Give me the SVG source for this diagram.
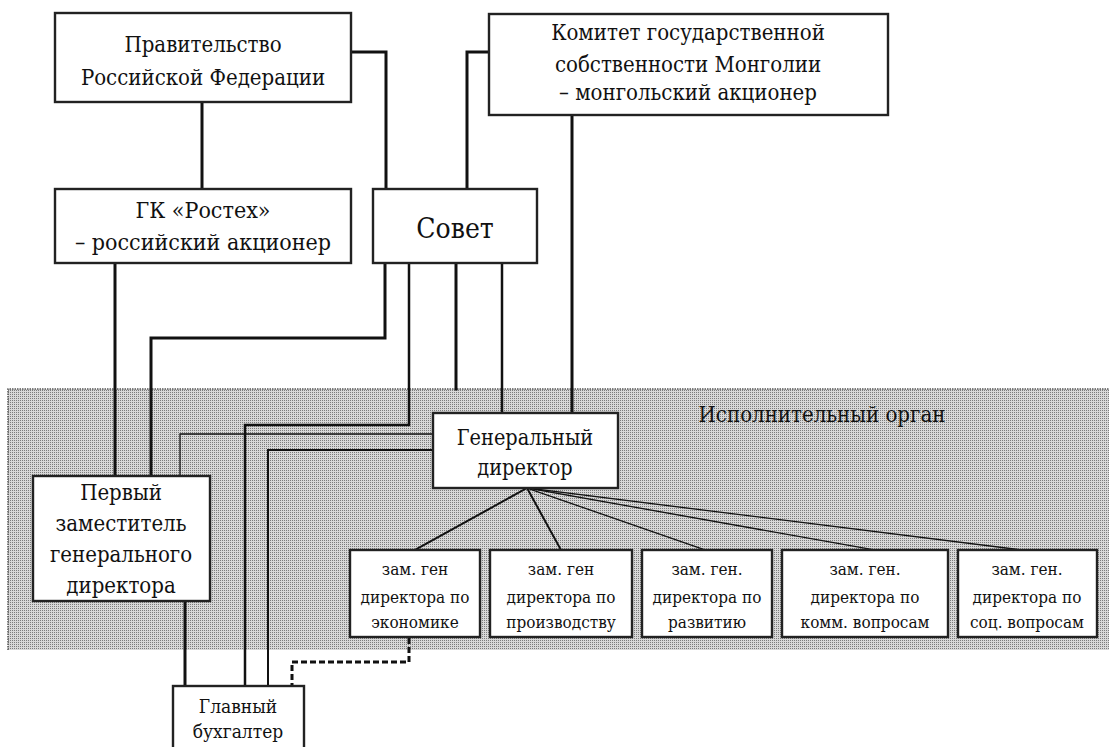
<svg xmlns="http://www.w3.org/2000/svg" width="1109" height="747" viewBox="0 0 1109 747">
<defs>
<pattern id="dots" width="2" height="2" patternUnits="userSpaceOnUse">
<rect width="2" height="2" fill="#d8d8d8"/>
<rect width="1" height="1" fill="#7c7c7c"/>
</pattern>
</defs>
<style>
.box{fill:#fff;stroke:#222;stroke-width:2.4}
.t{font-family:"DejaVu Serif Condensed","DejaVu Serif",serif;font-stretch:condensed;fill:#111;text-anchor:middle}
.f23{font-size:23px}
.f22{font-size:22px}
.f18{font-size:17px}
.c{fill:none;stroke:#111;stroke-linecap:square}
.w3{stroke-width:3}
.w25{stroke-width:2.5}
.w2{stroke-width:2}
.w1{stroke-width:1.3}
.dash{stroke-dasharray:6 3;stroke-linecap:butt}
</style>
<rect x="0" y="0" width="1109" height="747" fill="#fff"/>
<g id="exec-area">
<rect x="8" y="389" width="1103" height="261" fill="url(#dots)"/>
<path d="M8,650 V389 H1109" fill="none" stroke="#555" stroke-width="1.5" stroke-dasharray="1.5 1"/>
<text class="t f22" x="822" y="422">Исполнительный орган</text>
</g>
<g id="connectors">
<path class="c w3" d="M202,102 V189"/>
<path class="c w3" d="M351,52 H386 V189"/>
<path class="c w3" d="M489,52 H467 V189"/>
<path class="c w3" d="M572,115 V413"/>
<path class="c w3" d="M115,263 V476"/>
<path class="c w3" d="M385,263 V338 H151 V476"/>
<path class="c w25" d="M409,263 V425 H245 V686"/>
<path class="c w3" d="M456,263 V389"/>
<path class="c w25" d="M502,263 V413"/>
<path class="c w1" d="M433,434 H180 V476"/>
<path class="c w2" d="M433,450 H268 V686"/>
<path class="c w3" d="M185,601 V686"/>
<path class="c w3 dash" d="M409,638 V662 H292 V686"/>
<path class="c w2" d="M527,488 L415,550"/>
<path class="c w2" d="M527,488 L561,550"/>
<path class="c w1" d="M527,488 L705,550"/>
<path class="c w1" d="M527,488 L875,550"/>
<path class="c w1" d="M527,488 L1022,550"/>
</g>
<g id="pravitelstvo">
<rect class="box" x="55" y="13" width="296" height="89"/>
<text class="t f22" x="203" y="52">Правительство</text>
<text class="t f22" x="203" y="85">Российской Федерации</text>
</g>
<g id="komitet">
<rect class="box" x="489" y="14" width="399" height="101"/>
<text class="t f22" x="688" y="40">Комитет государственной</text>
<text class="t f22" x="688" y="72">собственности Монголии</text>
<text class="t f22" x="688" y="100">– монгольский акционер</text>
</g>
<g id="rostec">
<rect class="box" x="55" y="189" width="296" height="74"/>
<text class="t f23" x="203" y="218">ГК «Ростех»</text>
<text class="t f23" x="203" y="250">– российский акционер</text>
</g>
<g id="sovet">
<rect class="box" x="373" y="189" width="164" height="74"/>
<text class="t" style="font-size:28px" x="455" y="238">Совет</text>
</g>
<g id="gendir">
<rect class="box" x="433" y="413" width="185" height="75"/>
<text class="t" style="font-size:21.5px" x="525" y="445">Генеральный</text>
<text class="t" style="font-size:21.5px" x="525" y="475">директор</text>
</g>
<g id="pervyi">
<rect class="box" x="33" y="476" width="177" height="125"/>
<text class="t f22" x="121" y="500">Первый</text>
<text class="t f22" x="121" y="531">заместитель</text>
<text class="t f22" x="121" y="562">генерального</text>
<text class="t f22" x="121" y="593">директора</text>
</g>
<g id="zam-econ">
<rect class="box" x="350" y="550" width="130" height="87"/>
<text class="t f18" x="415" y="575">зам. ген</text>
<text class="t f18" x="415" y="603">директора по</text>
<text class="t f18" x="415" y="628">экономике</text>
</g>
<g id="zam-proizv">
<rect class="box" x="490" y="550" width="142" height="87"/>
<text class="t f18" x="561" y="575">зам. ген</text>
<text class="t f18" x="561" y="603">директора по</text>
<text class="t f18" x="561" y="628">производству</text>
</g>
<g id="zam-razv">
<rect class="box" x="642" y="550" width="130" height="87"/>
<text class="t f18" x="707" y="575">зам. ген.</text>
<text class="t f18" x="707" y="603">директора по</text>
<text class="t f18" x="707" y="628">развитию</text>
</g>
<g id="zam-komm">
<rect class="box" x="782" y="550" width="166" height="87"/>
<text class="t f18" x="865" y="575">зам. ген.</text>
<text class="t f18" x="865" y="603">директора по</text>
<text class="t f18" x="865" y="628">комм. вопросам</text>
</g>
<g id="zam-soc">
<rect class="box" x="958" y="550" width="139" height="87"/>
<text class="t f18" x="1027" y="575">зам. ген.</text>
<text class="t f18" x="1027" y="603">директора по</text>
<text class="t f18" x="1027" y="628">соц. вопросам</text>
</g>
<g id="glavbuh">
<rect class="box" x="173" y="686" width="131" height="64"/>
<text class="t" style="font-size:19px" x="238" y="713">Главный</text>
<text class="t" style="font-size:19px" x="238" y="738">бухгалтер</text>
</g>
</svg>
